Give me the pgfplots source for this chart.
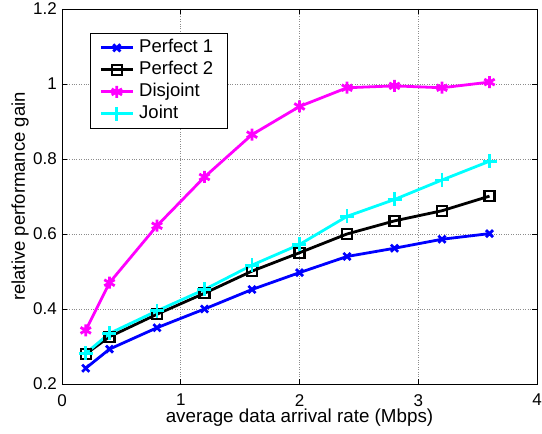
\documentclass[border=0pt]{standalone}
\usepackage{fontspec}
\setmainfont{Liberation Sans}
\usepackage{pgfplots}
\pgfplotsset{compat=1.18}
\definecolor{mblue}{RGB}{0,0,255}
\definecolor{mmag}{RGB}{255,0,255}
\definecolor{mcyan}{RGB}{0,255,255}
\begin{document}
\begin{tikzpicture}
\begin{axis}[
  name=ax,
  scale only axis,
  width=475pt, height=375pt,
  xmin=0, xmax=4, ymin=0.2, ymax=1.2,
  xtick={0,1,2,3,4},
  ytick={0.2,0.4,0.6,0.8,1,1.2},
  yticklabels={0.2,0.4,0.6,0.8,1,1.2},
  tick align=inside,
  major tick length=5pt,
  grid=major,
  major grid style={dotted, gray!90, line width=0.7pt},
  axis line style={line width=0.8pt},
  every tick/.style={black, line width=0.8pt},
  /pgf/number format/assume math mode=true,
  tick label style={font=\fontsize{17}{20}\selectfont},
  xticklabel style={inner sep=0pt, yshift=-10pt},
  yticklabel style={inner sep=0pt, xshift=-5pt},
  xlabel={average data arrival rate (Mbps)},
  ylabel={relative performance gain},
  xlabel style={font=\fontsize{18.8}{20}\selectfont, at={(axis description cs:0.5,0)}, anchor=base, yshift=-39pt},
  ylabel style={font=\fontsize{18.5}{20}\selectfont, at={(axis description cs:0,0.5)}, anchor=base, rotate=0, yshift=37pt},
  legend style={at={(0.059,0.936)}, anchor=north west, draw=black, line width=0.8pt,
    font=\fontsize{18.5}{20}\selectfont, inner xsep=9pt, inner ysep=3.5pt,
    nodes={inner xsep=5pt, inner ysep=0pt, text height=15.5pt, text depth=6.5pt},
    row sep=0pt},
  legend cell align=left,
  legend image code/.code={\draw[mark repeat=2, mark phase=2] plot coordinates {(0pt,0pt)(16pt,0pt)(32pt,0pt)};},
  every axis plot/.append style={line width=2.8pt},
]
\addplot[mblue, mark=x, mark size=5pt] coordinates {
  (0.2,0.242)(0.4,0.293)(0.8,0.350)(1.2,0.400)(1.6,0.452)
  (2.0,0.497)(2.4,0.540)(2.8,0.562)(3.2,0.586)(3.6,0.601)
};
\addlegendentry{Perfect 1}
\addplot[black, mark=square, mark size=5pt, mark options={line width=2.4pt}] coordinates {
  (0.2,0.280)(0.4,0.326)(0.8,0.386)(1.2,0.442)(1.6,0.501)
  (2.0,0.550)(2.4,0.600)(2.8,0.635)(3.2,0.662)(3.6,0.701)
};
\addlegendentry{Perfect 2}
\addplot[mmag, mark=asterisk, mark size=6pt] coordinates {
  (0.2,0.343)(0.4,0.470)(0.8,0.622)(1.2,0.752)(1.6,0.865)
  (2.0,0.940)(2.4,0.990)(2.8,0.995)(3.2,0.990)(3.6,1.005)
};
\addlegendentry{Disjoint}
\addplot[mcyan, mark=+, mark size=7pt] coordinates {
  (0.2,0.282)(0.4,0.335)(0.8,0.395)(1.2,0.452)(1.6,0.517)
  (2.0,0.572)(2.4,0.647)(2.8,0.692)(3.2,0.744)(3.6,0.794)
};
\addlegendentry{Joint}
\end{axis}
\path (ax.south west) ++(-62pt,-50pt);
\path (ax.north east) ++(5pt,9pt);
\end{tikzpicture}
\end{document}
